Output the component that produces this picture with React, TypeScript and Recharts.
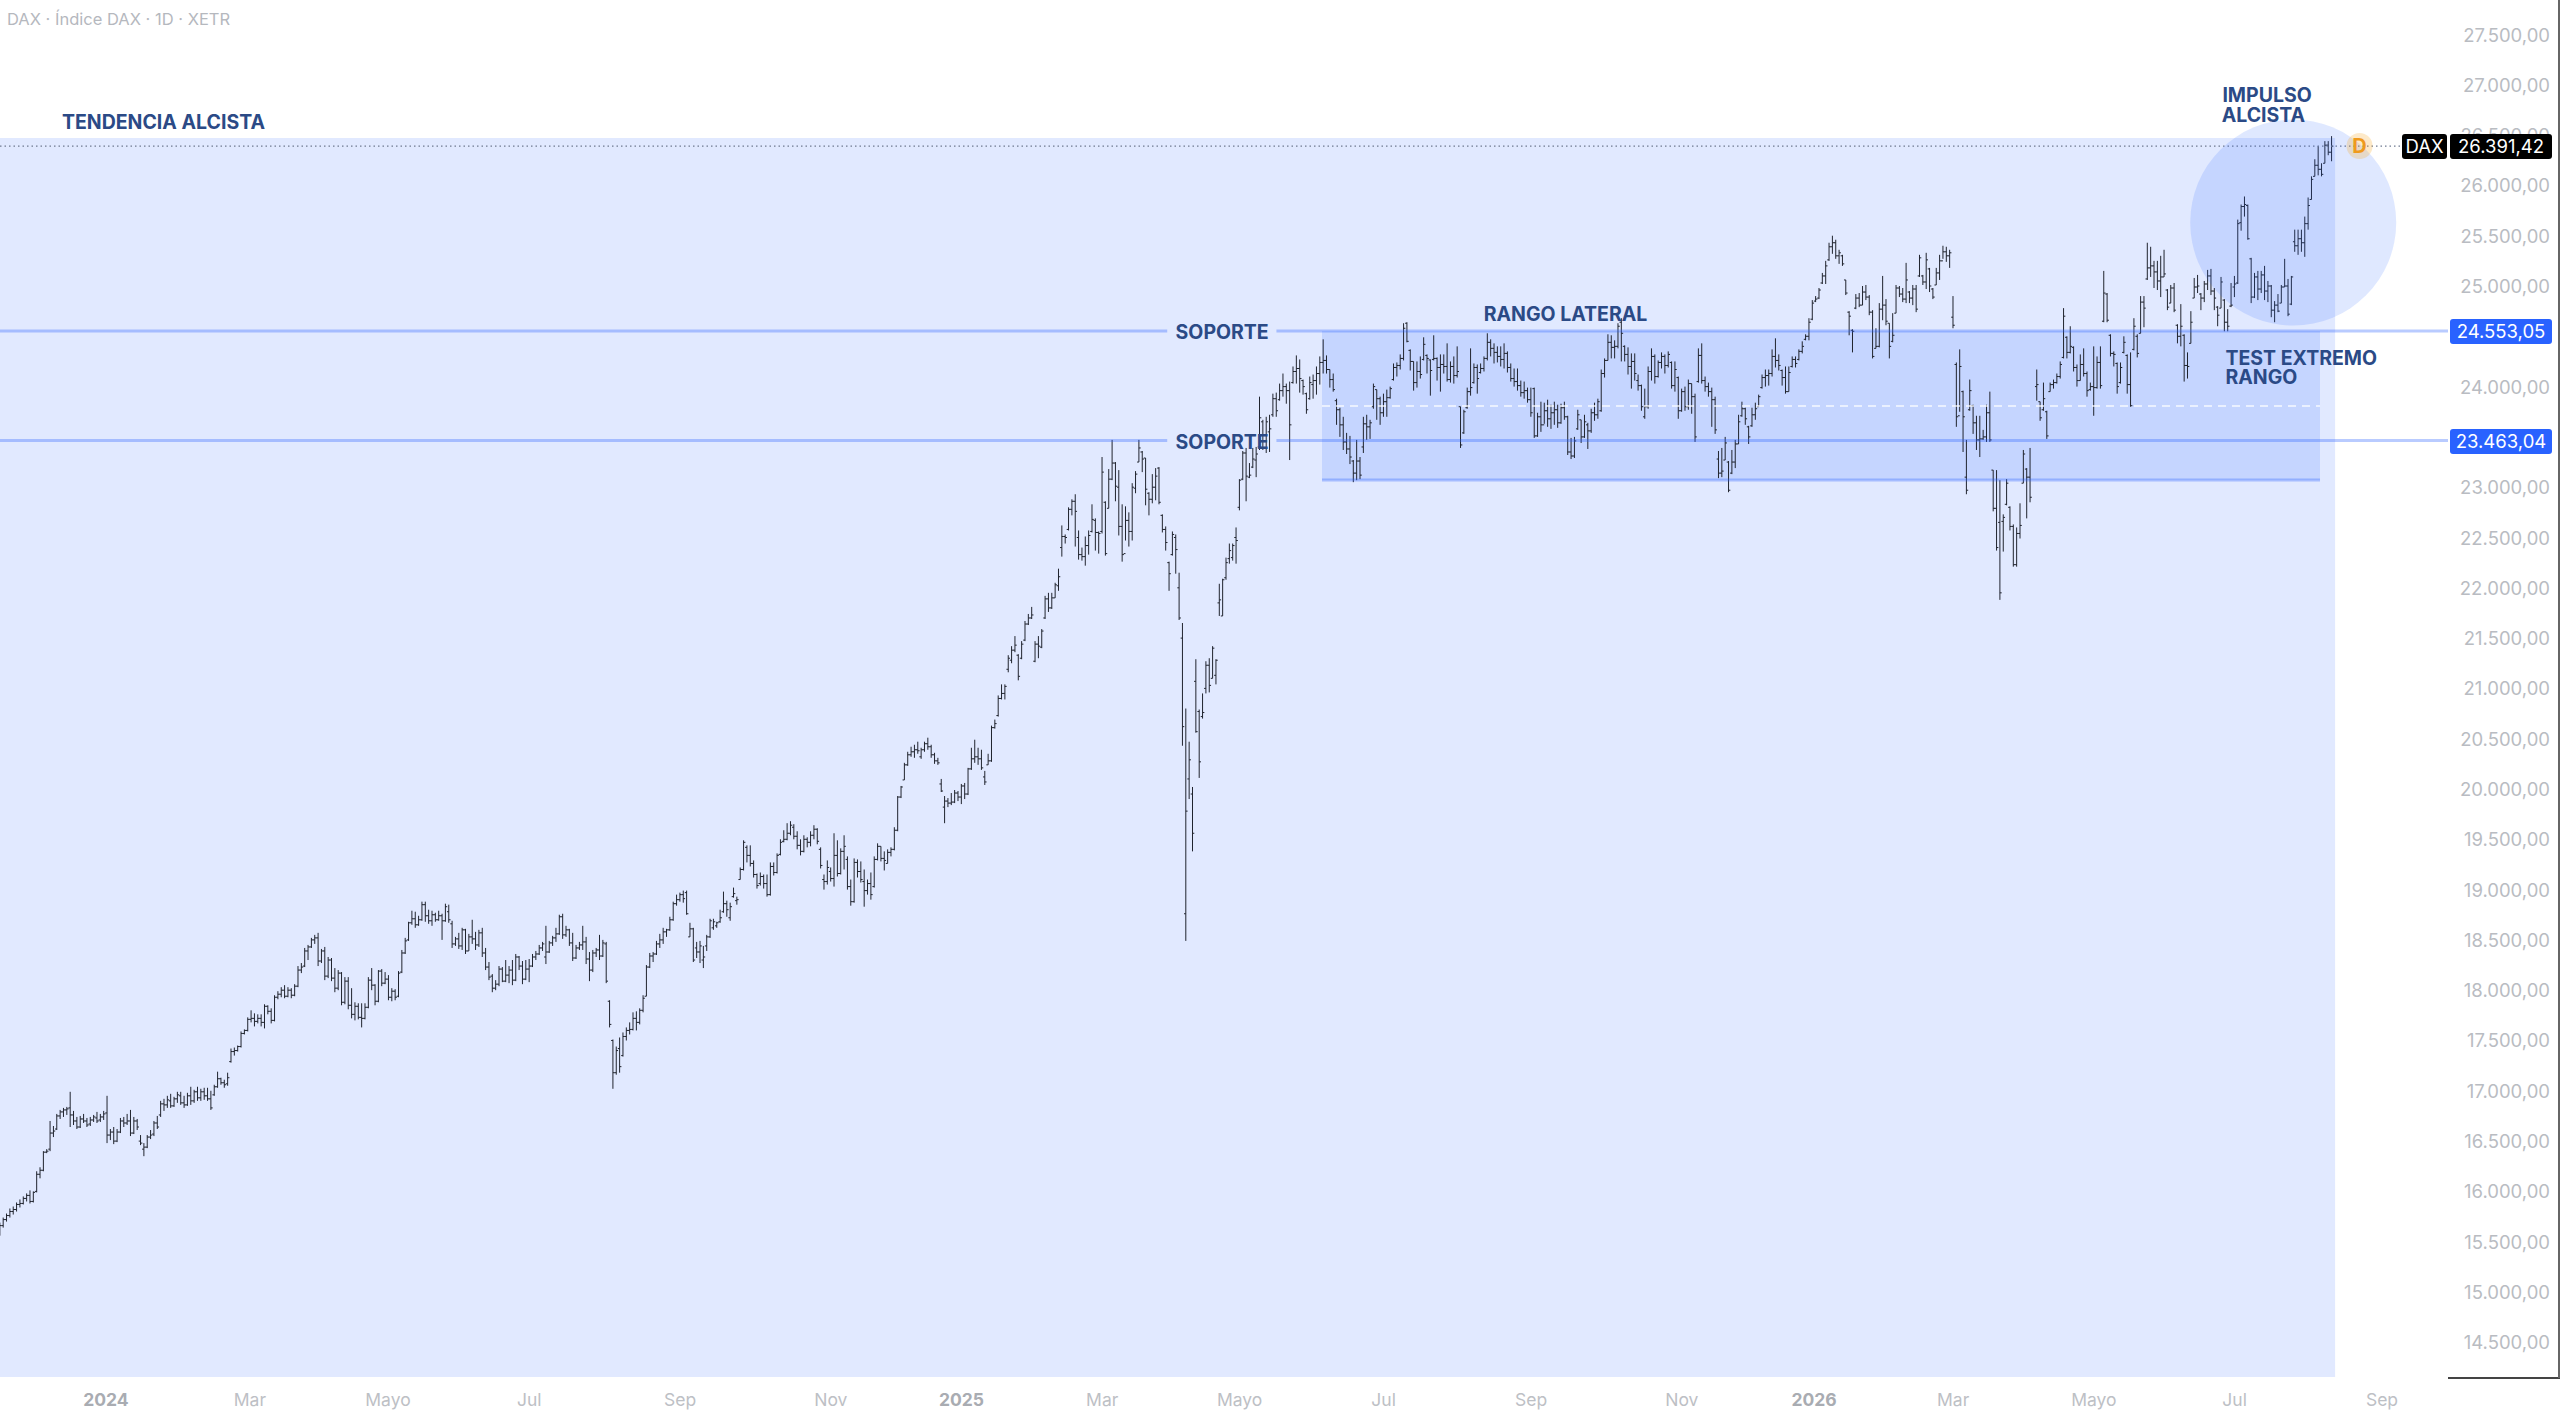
import { Bar, ComposedChart, ReferenceArea, ReferenceDot, ReferenceLine, XAxis, YAxis } from "recharts";

type Ohlc = [number, number, number, number];

// every bar is [open, high, low, close]
const barsLate2023: Ohlc[] = [
  [15640,15690,15560,15660],[15660,15740,15640,15720],[15720,15780,15700,15760],[15760,15830,15740,15800],[15800,15850,15770,15820],
  [15820,15890,15800,15870],[15870,15920,15840,15880],[15880,15950,15870,15930],[15930,15980,15900,15960],[15960,16010,15880,15900],
  [15900,16000,15890,15990],[16000,16200,15990,16170],[16170,16240,16130,16210],[16210,16400,16200,16390],[16390,16420,16380,16400],
  [16420,16700,16400,16580],[16580,16650,16540,16600],[16620,16770,16610,16750],[16750,16810,16720,16790],[16790,16830,16740,16810],
  [16810,16840,16760,16820],[16830,16990,16640,16760],[16760,16800,16660,16700],[16700,16740,16620,16640],[16640,16750,16630,16720],
  [16720,16770,16680,16700],[16700,16730,16640,16660],[16670,16740,16650,16710],[16710,16760,16690,16740],[16730,16790,16680,16700],
  [16710,16770,16690,16740],[16740,16800,16710,16770],[16780,16950,16480,16560],[16560,16620,16510,16590],[16590,16640,16470,16500],
  [16500,16620,16490,16590],[16590,16730,16580,16700],[16700,16740,16640,16680],[16680,16770,16660,16700],[16700,16810,16550,16580],
  [16580,16740,16570,16700],[16700,16720,16610,16640],[16500,16560,16460,16480],[16420,16480,16350,16440],[16440,16560,16430,16540],
  [16540,16610,16520,16560],[16570,16700,16550,16680],[16680,16750,16620,16640],[16760,16900,16740,16870],[16870,16920,16800,16860],
  [16860,16950,16830,16910],[16900,16970,16830,16850],[16850,16940,16840,16920],[16920,16990,16880,16960],[16950,16990,16860,16880],
  [16880,16950,16830,16860],[16860,16980,16850,16950],[16950,17040,16860,16900],[16900,17010,16880,16990],[16990,17040,16900,16930],
  [16930,17020,16900,16990],[16990,17030,16910,16950],[16950,17030,16900,16920],[16920,17000,16810,16830],[16960,17060,16950,17040],
  [17040,17190,17030,17120],[17120,17130,17060,17080],[17080,17110,17030,17060],[17070,17180,17050,17130],[17290,17420,17280,17390],
  [17390,17430,17350,17400],[17400,17450,17390,17440],[17440,17590,17430,17570],[17570,17610,17560,17600],[17600,17730,17590,17710],
];

const barsSpring2024: Ohlc[] = [
  [17710,17800,17680,17720],[17720,17770,17640,17690],[17690,17760,17670,17720],[17720,17760,17640,17680],[17680,17860,17620,17840],
  [17840,17850,17760,17790],[17790,17820,17670,17700],[17700,17950,17690,17930],[17930,17990,17910,17960],[17960,18030,17930,18000],
  [18000,18050,17920,17940],[17940,18030,17930,18000],[18000,18020,17920,17950],[17950,18060,17940,18040],[18040,18240,18030,18200],
  [18200,18270,18170,18230],[18240,18420,18230,18390],[18390,18450,18300,18430],[18430,18520,18420,18500],[18500,18550,18460,18520],
  [18520,18570,18240,18290],[18290,18410,18270,18390],[18390,18430,18100,18140],[18140,18330,18120,18300],[18300,18320,18090,18120],
  [18120,18220,17980,18020],[18020,18200,18000,18170],[18170,18180,17850,17880],[17880,18130,17860,18090],[18090,18130,17810,17850],
  [17850,18020,17720,17760],[17760,17880,17700,17840],[17840,17870,17710,17730],[17730,17870,17630,17720],[17720,17870,17710,17830],
  [17830,18130,17820,18100],[18100,18220,18000,18050],[18050,18060,17850,17890],[17890,18200,17880,18190],[18190,18210,18040,18070],
  [18070,18180,18060,18110],[18110,18150,17900,17930],[17930,18020,17890,17990],[17990,18010,17900,17930],[17940,18190,17930,18170],
  [18180,18400,18170,18370],[18370,18520,18360,18490],[18500,18680,18490,18670],[18670,18790,18650,18710],[18710,18780,18620,18650],
  [18650,18740,18640,18700],[18700,18880,18690,18850],[18850,18880,18680,18740],[18740,18800,18660,18690],[18690,18790,18640,18750],
  [18750,18770,18680,18700],[18700,18790,18690,18740],[18740,18760,18500,18690],[18690,18860,18680,18830],[18780,18850,18670,18700],
  [18660,18690,18420,18460],[18460,18530,18440,18510],[18510,18570,18410,18440],[18440,18620,18400,18600],[18600,18610,18360,18390],
  [18390,18560,18390,18530],[18530,18700,18460,18510],[18510,18580,18400,18450],[18450,18600,18430,18570],[18570,18620,18330,18370],
  [18370,18420,18200,18230],[18230,18280,18100,18130],[18140,18160,17980,18020],[18020,18100,18000,18060],[18060,18240,18040,18210],
  [18210,18230,18080,18090],[18090,18300,18080,18150],[18150,18240,18070,18200],[18200,18300,18050,18100],[18100,18360,18090,18330],
  [18330,18340,18200,18240],[18240,18290,18060,18110],[18110,18300,18100,18210],
];

const barsSummer2024: Ohlc[] = [
  [18210,18310,18080,18240],[18240,18360,18230,18330],[18330,18390,18300,18360],[18360,18450,18350,18420],[18420,18480,18390,18460],
  [18330,18640,18260,18380],[18380,18490,18370,18470],[18470,18540,18440,18520],[18520,18620,18480,18560],[18560,18750,18550,18730],
  [18730,18760,18510,18550],[18550,18640,18530,18600],[18600,18610,18440,18470],[18470,18570,18290,18320],[18320,18450,18310,18420],
  [18420,18480,18400,18450],[18450,18640,18400,18480],[18480,18530,18260,18310],[18310,18380,18090,18200],[18200,18400,18180,18370],
  [18370,18420,18330,18400],[18400,18550,18300,18340],[18340,18500,18330,18470],[18460,18480,18070,18090],[17890,17900,17630,17660],
  [17500,17510,17020,17180],[17180,17440,17160,17400],[17420,17530,17180,17240],[17350,17580,17340,17540],[17540,17630,17500,17600],
  [17600,17680,17560,17610],[17610,17780,17600,17720],[17720,17790,17600,17680],[17680,17820,17660,17800],[17800,17950,17780,17920],
  [17940,18250,17940,18230],[18230,18370,18220,18340],[18340,18380,18280,18360],[18360,18490,18350,18460],[18460,18560,18420,18500],
  [18500,18620,18460,18580],[18580,18610,18530,18600],[18600,18730,18590,18700],[18700,18880,18690,18860],[18860,18950,18840,18900],
  [18900,18970,18880,18950],[18950,18990,18870,18910],[18970,18990,18750,18760],[18530,18670,18530,18610],[18610,18620,18280,18300],
  [18420,18480,18320,18380],[18380,18490,18270,18440],[18300,18440,18220,18330],[18440,18550,18390,18530],[18530,18710,18520,18690],
  [18620,18710,18600,18680],[18640,18680,18620,18670],[18680,18800,18670,18720],[18780,18980,18770,18860],[18860,18890,18730,18800],
  [18720,18870,18690,18830],[18930,19020,18920,18960],[18890,18930,18850,18900],[19100,19220,19100,19200],[19200,19490,19190,19470],
  [19420,19440,19270,19340],[19340,19440,19230,19260],[19260,19290,19120,19150],[19150,19160,19010,19040],[19060,19170,19040,19130],
  [19130,19150,19010,19060],[19060,19150,18930,18950],[18950,19270,18940,19230],[19230,19270,19140,19170],[19170,19360,19160,19340],
  [19350,19500,19340,19470],[19480,19590,19470,19500],[19500,19660,19490,19560],[19560,19680,19540,19640],[19620,19650,19500,19530],
  [19530,19580,19400,19440],[19440,19500,19340,19380],[19380,19540,19370,19500],[19500,19520,19420,19470],[19470,19580,19430,19540],
  [19540,19640,19500,19600],[19600,19610,19450,19480],[19400,19420,19210,19240],
];

const barsWinter2024: Ohlc[] = [
  [19100,19150,19000,19080],[19080,19290,19050,19220],[19180,19220,19080,19110],[19110,19560,19030,19340],[19340,19490,19130,19160],
  [19160,19410,19150,19380],[19380,19540,19200,19430],[19300,19330,19000,19030],[19030,19100,18840,18880],[18880,19310,18870,19270],
  [19270,19300,19120,19180],[19180,19280,19070,19100],[19080,19200,18830,18990],[18990,19100,18950,19060],[19060,19170,18900,18950],
  [19030,19330,19020,19300],[19300,19460,19290,19430],[19430,19430,19280,19310],[19310,19380,19190,19290],[19260,19400,19260,19370],
  [19370,19420,19330,19400],[19400,19620,19390,19590],[19590,19930,19580,19920],[19920,20030,19910,20020],[20090,20260,20090,20240],
  [20240,20370,20230,20340],[20340,20420,20320,20370],[20370,20440,20310,20390],[20390,20470,20350,20380],[20320,20410,20300,20390],
  [20390,20470,20370,20450],[20450,20510,20390,20420],[20420,20440,20310,20340],[20340,20360,20250,20280],[20280,20310,20240,20260],
  [20050,20100,19970,19980],[19820,19930,19660,19880],[19880,19910,19820,19860],[19860,19960,19840,19870],[19870,19990,19860,19960],
  [19960,19980,19880,19920],[19920,20050,19850,20030],[20030,20060,19900,19950],[19950,20210,19940,20200],[20200,20410,20190,20300],
  [20300,20490,20260,20320],[20320,20410,20240,20300],[20300,20390,20190,20210],[20120,20180,20040,20070],[20240,20350,20240,20280],
  [20280,20630,20270,20610],[20610,20690,20600,20650],[20730,20930,20720,20900],[20900,21040,20890,20950],
];

const barsSpring2025: Ohlc[] = [
  [20950,21040,20890,21020],[21190,21330,21160,21300],[21280,21420,21250,21380],[21380,21520,21360,21430],[21330,21340,21080,21120],
  [21300,21470,21290,21440],[21480,21670,21470,21640],[21640,21740,21630,21700],[21700,21810,21690,21730],[21270,21470,21260,21440],
  [21440,21520,21300,21420],[21410,21590,21400,21570],[21700,21920,21690,21890],[21890,21950,21760,21800],[21800,21950,21790,21900],
  [21900,22050,21900,22030],[22020,22190,21970,22110],[22400,22620,22310,22510],[22510,22530,22440,22500],[22580,22800,22570,22780],
  [22780,22880,22720,22860],[22860,22930,22410,22760],[22500,22570,22280,22330],[22330,22400,22270,22310],[22310,22510,22220,22420],
  [22420,22570,22330,22520],[22560,22830,22550,22680],[22670,22690,22370,22550],[22550,22560,22340,22540],[22560,23300,22540,23150],
  [22850,22860,22320,22340],[22790,23180,22790,23080],[23080,23470,23070,23240],[23240,23250,22860,23010],[23000,23170,22520,22610],
  [22610,22830,22260,22330],[22340,22810,22470,22670],[22670,22750,22410,22560],[22560,23040,22470,23000],[22990,23160,22940,23130],
  [23250,23470,23250,23390],[23350,23360,23150,23280],[23290,23290,22820,22980],[22940,22950,22720,22880],[22880,23130,22840,23000],
  [23000,23190,22870,23110],[23190,23200,22830,22850],[22720,22730,22550,22580],[22580,22610,22370,22450],[22250,22260,21970,22140],
  [22330,22560,22320,22530],[22500,22530,22140,22380],[22000,22150,21680,21700],[21500,21650,20430,20620],[18760,20800,18490,19780],
  [20100,20470,19900,20290],[19950,20020,19380,19560],[21070,21290,20560,20570],[20770,20790,20110,20270],[20720,20950,20700,20760],
  [21000,21270,20950,21230],[21230,21300,20960,21030],[21100,21420,21100,21400],[21130,21290,21040,21280],[21850,22040,21720,21880],
  [21720,22090,21720,22080],[22100,22300,22080,22250],[22290,22440,22240,22370],[22300,22440,22270,22420],[22500,22600,22240,22470],
  [22800,23080,22770,23070],[23080,23360,23070,23340],[23340,23390,22860,23110],[23100,23240,23090,23120],[23200,23390,23190,23280],
  [23270,23400,23100,23330],[23400,23900,23370,23690],[23650,23670,23370,23460],[23460,23700,23340,23650],[23550,23720,23350,23580],
  [23720,23930,23700,23880],[23880,23940,23700,23760],[23870,24030,23860,23960],[23960,24130,23900,24000],[24000,24030,23830,23960],
  [23960,24050,23270,23620],[24040,24200,24030,24150],[24150,24310,24030,24180],[24180,24270,23940,24080],[24060,24070,23920,24000],
  [23930,23940,23730,23770],[23880,24100,23870,24040],[24020,24120,23880,24060],[24060,24200,23920,24130],[24130,24300,24020,24240],
  [24240,24470,24130,24260],[24260,24310,24130,24170],[24170,24170,23990,24070],[24070,24130,23950,23970],[23860,23880,23620,23770],
  [23770,23790,23500,23620],[23620,23700,23370,23450],[23450,23540,23330,23380],[23380,23510,23230,23300],[23260,23270,23050,23140],
  [23140,23470,23070,23260],[23260,23300,23080,23120],[23400,23700,23340,23630],[23630,23720,23470,23600],[23600,23670,23480,23640],
  [23800,24030,23780,24000],[23970,23970,23670,23880],[23880,23900,23620,23740],
];

const barsSummer2025: Ohlc[] = [
  [23740,23930,23700,23850],[23850,23970,23700,23890],[23890,24000,23880,23980],[24070,24230,24060,24190],[24190,24240,24100,24210],
  [24210,24320,24170,24280],[24280,24630,24260,24580],[24630,24640,24440,24450],[24360,24370,24160,24250],[24250,24250,23960,24040],
  [24040,24250,23990,24150],[24150,24300,24080,24120],[24270,24490,24260,24420],[24310,24320,24130,24280],[24265,24270,23910,24160],
  [24270,24510,24260,24280],[24280,24290,24060,24190],[24190,24320,23950,24220],[24220,24320,24130,24200],[24200,24430,24050,24070],
  [24070,24250,24040,24200],[24200,24300,24030,24110],[24110,24400,24090,24150],[23800,23800,23390,23420],[23540,23770,23530,23750],
  [23790,23990,23780,23950],[23950,24380,23910,23990],[24040,24230,24030,24190],[24190,24220,23930,24080],[24140,24230,24130,24180],
  [24180,24300,24150,24280],[24280,24530,24260,24440],[24440,24470,24300,24380],[24380,24430,24230,24340],[24340,24400,24240,24300],
  [24300,24400,24200,24270],[24270,24430,24180,24330],[24330,24350,24140,24190],[24190,24230,24050,24080],[24080,24180,24000,24050],
  [24050,24180,23960,24010],[24010,24060,23900,23940],[23940,24050,23880,23960],[23960,23990,23840,23870],[23870,23990,23700,23740],
  [23980,23990,23490,23510],[23510,23740,23500,23700],[23700,23850,23550,23620],[23620,23840,23630,23760],[23760,23870,23600,23680],
  [23680,23820,23580,23740],[23740,23850,23620,23770],[23770,23820,23590,23640],[23640,23830,23630,23790],[23790,23850,23670,23700],
  [23700,23710,23320,23350],[23350,23490,23280,23310],[23310,23500,23290,23460],[23580,23770,23570,23720],[23670,23670,23440,23500],
  [23500,23720,23490,23650],[23620,23640,23380,23560],[23560,23780,23540,23740],[23740,23840,23660,23720],[23720,23880,23680,23850],
  [23760,24170,23750,24130],[24130,24280,24090,24260],[24260,24520,24260,24440],[24440,24510,24280,24390],[24390,24460,24280,24400],
  [24400,24630,24380,24600],[24640,24680,24250,24530],[24400,24410,24250,24320],[24320,24390,24120,24200],[24200,24330,23980,24250],
  [24250,24330,24060,24130],[24060,24120,23960,24010],[24010,24020,23760,23800],[23700,23980,23680,23800],[23800,24200,23780,24150],
  [24150,24380,24060,24300],[24300,24320,24030,24100],[24100,24260,24090,24240],[24240,24340,24180,24300],[24300,24320,24130,24210],
  [24210,24350,24190,24320],[24240,24250,23980,24010],[24010,24250,23950,24170],[24090,24100,23680,23760],
];

const barsWinter2025: Ohlc[] = [
  [23760,23980,23750,23950],[23950,24000,23760,23800],[23800,24070,23770,24030],[24030,24030,23730,23900],[23900,23930,23450,23500],
  [24050,24380,24040,24310],[24310,24430,24030,24060],[24060,24100,23950,24000],[24000,24040,23900,23950],[23950,23990,23600,23870],
  [23870,23900,23530,23570],[23280,23360,23090,23140],[23140,23390,23100,23160],[23270,23500,23270,23440],[23250,23260,22950,22970],
  [23140,23370,23130,23250],[23250,23470,23190,23430],[23430,23720,23430,23650],[23710,23850,23700,23780],[23780,23790,23620,23680],
  [23600,23610,23430,23500],[23610,23790,23600,23720],[23720,23840,23670,23780],[23800,23920,23800,23900],[23990,24120,23980,24090],
  [24090,24170,24000,24110],[24110,24170,24010,24130],[24130,24370,24100,24300],[24300,24480,24190,24260],[24260,24320,24160,24210],
  [24160,24170,24010,24090],[24090,24200,23930,23950],[23950,24200,23950,24140],[24200,24300,24190,24270],[24270,24300,24190,24230],
  [24270,24370,24260,24350],[24350,24450,24330,24400],[24470,24520,24460,24500],[24500,24680,24460,24640],[24670,24860,24660,24830],
  [24850,24900,24840,24870],[24880,24980,24870,24960],[25030,25130,25020,25100],[25100,25250,25020,25200],[25260,25430,25250,25390],
  [25390,25500,25320,25430],[25430,25460,25270,25300],[25300,25360,25220,25330],[25300,25310,25200,25220],[25060,25060,24910,24930],
  [24740,24750,24510,24700],[24560,24570,24340,24550],[24780,24920,24770,24880],[24880,24930,24790,24810],[24810,25000,24810,24940],
  [24940,25010,24860,24890],[24890,24910,24710,24740],[24740,24760,24280,24300],[24380,24580,24380,24400],[24400,24830,24390,24770],
  [24770,25100,24660,24810],[24810,24870,24610,24650],[24630,24630,24280,24400],[24450,24730,24440,24510],[24730,25010,24730,24980],
  [24980,25000,24890,24920],[24920,24980,24840,24870],[24870,25230,24830,25060],[24940,24950,24830,24880],[24880,25010,24810,24970],
  [24970,25010,24740,24770],[25100,25310,25090,25280],[25100,25110,25010,25040],[25040,25330,24970,25260],[25170,25180,24940,25000],
  [24970,24980,24870,24890],[25010,25180,25010,25130],[25130,25310,25060,25250],[25250,25400,25270,25340],[25340,25390,25240,25300],
  [25300,25360,25180,25330],
];

const barsSpring2026: Ohlc[] = [
  [24690,24900,24580,24610],[24220,24240,23600,23700],[23710,24370,23750,24200],[23950,23960,23350,23700],[23100,23470,22930,22970],
  [23770,24070,23760,23960],[23810,23820,23530,23640],[23640,23710,23370,23470],[23470,23710,23300,23480],[23480,23570,23470,23500],
  [23500,23820,23450,23740],[23740,23950,23450,23470],[23170,23170,22760,22790],[22790,23170,22370,22400],[22650,23070,21880,21950],
  [22660,22730,22360,22700],[22830,23080,22820,23040],[22800,22810,22570,22610],[22610,22630,22210,22230],[22230,22600,22210,22540],
  [22540,22840,22490,22620],[23040,23370,23040,23330],[23180,23190,22690,23100],[23100,23390,22850,22900],
];

const barsMay2026: Ohlc[] = [
  [24000,24170,23860,24020],[23850,23850,23660,23690],[23770,24040,23760,23880],[23750,23760,23480,23510],[23950,24040,23950,24020],
  [24020,24070,23980,24040],[24040,24130,24030,24100],[24100,24250,24080,24220],[24290,24780,24280,24700],[24490,24500,24280,24340],
  [24340,24600,24330,24400],[24390,24400,24150,24190],[24190,24220,24000,24060],[24060,24320,24060,24220],[24220,24380,24100,24130],
  [24130,24150,23900,23960],[23970,24040,23960,24000],[24000,24400,23710,23990],[23990,24300,23980,24240],[24240,24400,23980,24010],
  [24650,25150,24640,24930],[24920,24930,24640,24660],[24510,24520,24300,24330],[24330,24350,24200,24320],[24230,24240,23930,24000],
  [24040,24240,24030,24190],[24340,24500,24330,24440],[24310,24320,23930,24020],[24020,24340,23800,23810],[24370,24680,24360,24600],
  [24500,24520,24290,24330],[24530,24900,24530,24840],[24840,24900,24590,24780],[25070,25430,25060,25180],
];

const barsJul2026: Ohlc[] = [
  [25180,25390,25090,25200],[25200,25250,24980,25140],[25140,25250,24960,25050],[25050,25300,24890,25090],[25090,25360,25090,25120],
  [24960,24970,24760,24790],[24830,25010,24830,24980],[24980,25030,24740,24760],[24610,24620,24430,24500],[24500,24820,24400,24600],
  [24510,24520,24050,24210],[24210,24340,24080,24200],[24430,24750,24430,24640],[24880,25080,24880,24990],[24990,25110,24930,25000],
  [24920,24930,24760,24880],[24880,25050,24840,25020],[25020,25160,24960,25100],[25100,25170,24910,24950],[24950,24980,24760,24880],
  [24790,24800,24600,24710],[24780,25090,24780,25040],[24860,24870,24550,24640],[24640,24770,24550,24600],[24800,25030,24790,24810],
  [24990,25100,24890,25020],[25030,25660,25020,25620],[25630,25810,25550,25790],[25790,25890,25690,25810],[25800,25810,25460,25470],
  [25270,25280,24830,24890],[24890,25130,24880,25090],[25090,25150,24860,24970],[24970,25150,24930,25110],[25110,25200,24860,24950],
  [24950,25050,24840,25000],[25000,25010,24690,24760],[24760,24850,24640,24810],[24810,24920,24740,24750],[24830,25010,24830,24990],
  [24990,25270,24990,25000],[25000,25070,24700,24720],[24820,25100,24810,25090],[25440,25560,25340,25400],[25400,25560,25310,25470],
  [25470,25560,25340,25430],[25430,25690,25290,25620],[25620,25880,25560,25800],[25860,26090,25860,26060],[26090,26260,26090,26200],
  [26200,26390,26100,26160],[26160,26220,26090,26110],[26220,26440,26220,26400],[26400,26440,26300,26330],[26330,26490,26240,26390],
];

// first bar number of each block, so that an uneven count in one does not shift the next
const blocks: [number, Ohlc[]][] = [
  [0, barsLate2023], [75, barsSpring2024], [158, barsSummer2024], [246, barsWinter2024], [300, barsSpring2025],
  [413, barsSummer2025], [502, barsWinter2025], [583, barsSpring2026], [608, barsMay2026], [642, barsJul2026],
];

// 23.500 and 24.500 sit fully behind the price tags in the picture, so they are left out
const priceTicks = [14500, 15000, 15500, 16000, 16500, 17000, 17500, 18000, 18500, 19000, 19500, 20000, 20500, 21000, 21500, 22000, 22500, 23000, 24000, 25000, 25500, 26000, 26500, 27000, 27500];
const timeTicks = [31.6, 74.6, 115.8, 158, 203, 248, 287, 329, 370, 413, 457, 502, 541.5, 583, 625, 667, 711];
const timeLabels = ["2024", "Mar", "Mayo", "Jul", "Sep", "Nov", "2025", "Mar", "Mayo", "Jul", "Sep", "Nov", "2026", "Mar", "Mayo", "Jul", "Sep"];

const lastPrice = 26391.42;
const soporteAlto = 24553.05;
const soporteBajo = 23463.04;
const rangoBajo = 23072;
const rangoMedio = 23807;

const data = blocks.flatMap(([start, rows]) =>
  rows.map(([o, h, l, c], n) => ({ i: start + n, range: [l, h], o, h, l, c }))
);

const FONT = "Inter, sans-serif";
const NAVY = "#2b4a86";
const MAX_X = 730.7;

const fmt = (v: number) => v.toLocaleString("de-DE", { minimumFractionDigits: 2, maximumFractionDigits: 2 });

function OhlcShape(props: any) {
  const { x, y, width, height, payload } = props;
  const cx = x + width / 2;
  const span = payload.h - payload.l || 1;
  const yOpen = y + (height * (payload.h - payload.o)) / span;
  const yClose = y + (height * (payload.h - payload.c)) / span;
  return (
    <g stroke="#20242e" strokeWidth={1} fill="none">
      <line x1={cx} x2={cx} y1={y} y2={y + height} />
      <line x1={cx - 1.8} x2={cx} y1={yOpen} y2={yOpen} />
      <line x1={cx} x2={cx + 1.8} y1={yClose} y2={yClose} />
    </g>
  );
}

function PriceTick({ x, y, payload }: any) {
  return (
    <text x={x + 94} y={y} dy={7} textAnchor="end" fontFamily={FONT} fontSize={18.5} fill="#b9bcc2">
      {fmt(payload.value)}
    </text>
  );
}

function TimeTick({ x, y, index }: any) {
  const label = timeLabels[index];
  const isYear = label.length === 4 && label[0] === "2";
  return (
    <text x={x} y={y} dy={21} textAnchor="middle" fontFamily={FONT} fontSize={17.5} fontWeight={isYear ? 700 : 400} fill={isYear ? "#a9acb2" : "#bdc0c5"}>
      {label}
    </text>
  );
}

const noteStyle = { fill: NAVY, fontSize: 19.5, fontWeight: 700, fontFamily: FONT };

const note = (x: number, y: number, value: string) => (
  <ReferenceDot key={value + y} x={x} y={y} r={0} ifOverflow="visible" fill="none" stroke="none" label={{ value, position: "center", ...noteStyle }} />
);

const tagStyle: React.CSSProperties = {
  position: "absolute", left: 2450, width: 102, height: 25, borderRadius: 3, color: "#fff",
  fontFamily: FONT, fontSize: 18.5, lineHeight: "25px", textAlign: "center",
};

export default function App() {
  return (
    <div style={{ position: "absolute", left: 0, top: 0, width: 2560, height: 1413, background: "#fff", overflow: "hidden" }}>
      <ComposedChart width={2560} height={1413} data={data} margin={{ top: 0, right: 0, bottom: 0, left: 0 }}>
        <XAxis type="number" dataKey="i" domain={[0, MAX_X]} ticks={timeTicks} interval={0} height={36} axisLine={false} tickLine={false} tick={<TimeTick />} allowDataOverflow />
        <YAxis orientation="right" width={112} domain={[14155, 27843]} ticks={priceTicks} interval={0} axisLine={false} tickLine={false} tick={<PriceTick />} allowDataOverflow />

        <ReferenceArea x1={0} x2={697} y1={14155} y2={26471} fill="#2962ff" fillOpacity={0.14} stroke="none" ifOverflow="visible" />
        <ReferenceArea x1={394.6} x2={692.5} y1={rangoBajo} y2={soporteAlto} fill="#2962ff" fillOpacity={0.15} stroke="none" ifOverflow="visible" />
        <ReferenceDot x={684.5} y={25631} r={103} fill="#2962ff" fillOpacity={0.15} stroke="none" ifOverflow="visible" />

        <ReferenceLine segment={[{ x: 0, y: soporteAlto }, { x: 348.4, y: soporteAlto }]} stroke="#2962ff" strokeOpacity={0.33} strokeWidth={3} />
        <ReferenceLine segment={[{ x: 381, y: soporteAlto }, { x: MAX_X, y: soporteAlto }]} stroke="#2962ff" strokeOpacity={0.33} strokeWidth={3} />
        <ReferenceLine segment={[{ x: 0, y: soporteBajo }, { x: 348.4, y: soporteBajo }]} stroke="#2962ff" strokeOpacity={0.33} strokeWidth={3} />
        <ReferenceLine segment={[{ x: 381, y: soporteBajo }, { x: MAX_X, y: soporteBajo }]} stroke="#2962ff" strokeOpacity={0.33} strokeWidth={3} />
        <ReferenceLine segment={[{ x: 394.6, y: rangoBajo }, { x: 692.5, y: rangoBajo }]} stroke="#2962ff" strokeOpacity={0.33} strokeWidth={3} />
        <ReferenceLine segment={[{ x: 394.6, y: rangoMedio }, { x: 692.5, y: rangoMedio }]} stroke="#ffffff" strokeOpacity={0.85} strokeWidth={1.5} strokeDasharray="8 6" />
        <ReferenceLine segment={[{ x: 0, y: lastPrice }, { x: 717.6, y: lastPrice }]} stroke="#6f7a90" strokeWidth={1.2} strokeDasharray="1.5 3" />

        <Bar dataKey="range" barSize={1} shape={<OhlcShape />} isAnimationActive={false} />

        <ReferenceDot x={704.3} y={lastPrice} r={13} fill="#f7a823" fillOpacity={0.25} stroke="none" ifOverflow="visible" label={{ value: "D", position: "center", fill: "#ef9a1d", fontSize: 20, fontWeight: 700, fontFamily: FONT }} />

        {note(48.8, 26630, "TENDENCIA ALCISTA")}
        {note(467.3, 24722, "RANGO LATERAL")}
        {note(364.8, 24543, "SOPORTE")}
        {note(364.8, 23452, "SOPORTE")}
        {note(676.7, 26899, "IMPULSO")}
        {note(675.6, 26700, "ALCISTA")}
        {note(686.9, 24284, "TEST EXTREMO")}
        {note(675, 24095, "RANGO")}
      </ComposedChart>

      <div style={{ position: "absolute", left: 7, top: 7, fontFamily: FONT, fontSize: 16.5, lineHeight: "24px", color: "#b5b8be" }}>DAX · Índice DAX · 1D · XETR</div>

      <div style={{ ...tagStyle, left: 2402, width: 45, top: 134, background: "#000" }}>DAX</div>
      <div style={{ ...tagStyle, top: 134, background: "#000" }}>{fmt(lastPrice)}</div>
      <div style={{ ...tagStyle, top: 319, background: "#2962ff" }}>{fmt(soporteAlto)}</div>
      <div style={{ ...tagStyle, top: 429, background: "#2962ff" }}>{fmt(soporteBajo)}</div>

      <div style={{ position: "absolute", left: 2448, top: 1377, width: 112, height: 1.5, background: "#444" }} />
      <div style={{ position: "absolute", left: 2558, top: 0, width: 1.5, height: 1378, background: "#666" }} />
    </div>
  );
}
